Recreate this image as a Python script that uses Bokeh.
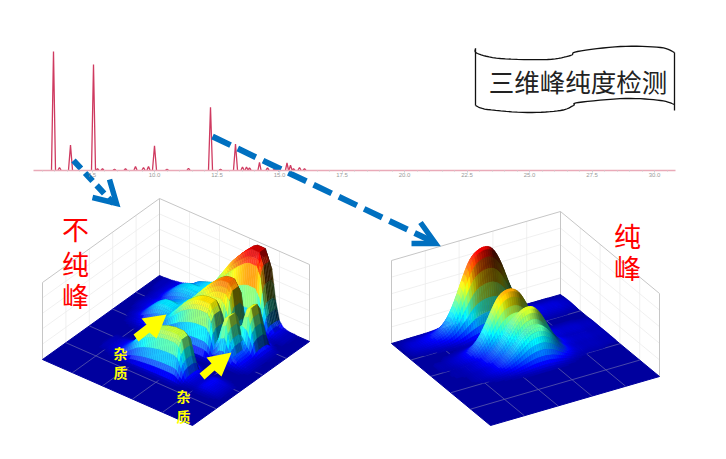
import numpy as np
from bokeh.plotting import figure
from bokeh.models import Range1d, LinearAxis, FixedTicker, NumeralTickFormatter
from bokeh.core.properties import value
from bokeh.embed import file_html
from bokeh.resources import INLINE

# ---------- chromatogram ----------
peak_times = [5.96, 6.2, 6.64, 7.56, 7.72, 7.92, 8.4, 8.84, 9.24, 9.56, 9.76, 10.0, 10.5, 11.36, 12.24, 12.64, 13.24, 13.52, 13.68, 13.8, 14.2, 14.52, 14.8, 15.3, 15.44, 15.56, 15.8, 16.0]
peak_heights = [100, 2, 21, 89, 1, 1, 0.5, 1, 3, 2, 3, 20.5, 0.5, 1.4, 53, 0.5, 22, 2.5, 2.5, 1.7, 6.5, 1.7, 0.5, 6, 4, 1, 2, 1]
tick_values = [7.5, 10.0, 12.5, 15.0, 17.5, 20.0, 22.5, 25.0, 27.5, 30.0]
time_start, time_end = 5.16, 30.84

# ---------- 3D surfaces: height (%) along the ridge, read by eye ----------
left_row_index = [35, 27, 38, 30, 25, 14]
left_rows = [
    [0,0,0,1,2,3,6,10,15,19,22,24,25,25,25,24,23,22,21,20,19,17,14,11,8,6,4,3,2,1,0,0,0,0,0,0,0,0,0,0,0],
    [0,0,0,0,1,2,4,8,13,18,22,25,26,26,25,24,24,25,26,26,25,23,19,14,10,7,4,3,2,1,0,0,0,0,0,0,0,0,0,0,0],
    [0,0,1,1,2,3,4,6,8,10,14,18,20,22,24,26,30,36,44,52,60,68,75,81,87,92,97,100,100,100,85,40,12,4,2,1,1,0,0,0,0],
    [0,0,0,1,2,3,5,7,9,11,13,16,18,20,22,26,30,36,42,48,54,60,65,70,74,77,78,78,70,30,10,30,55,58,35,8,2,1,0,0,0],
    [0,0,0,0,0,1,2,3,5,7,9,12,14,17,20,24,30,36,42,48,52,56,59,61,62,62,62,50,18,30,52,56,30,12,8,4,2,1,0,0,0],
    [0,0,0,0,0,0,0,1,1,2,3,5,8,12,17,24,31,36,40,43,46,48,50,51,52,52,52,48,24,6,3,2,2,4,5,4,3,2,1,0,0],
]
left_across = [4, 30, 85, 100, 100, 100, 85, 30, 4]

right_row_index = [4, 14, 18, 21]
right_row_heights = [100, 73, 58, 42]
right_profile_back = [0,1,2,3,3,4,5,6,8,10,14,20,30,43,58,73,86,94,98,100,100,98,92,82,68,52,38,26,17,11,7,5,4,4,3,3,3,3,2,2,1]
right_profile_mid = [0,0,0,1,1,1,2,3,4,6,9,13,20,30,44,60,76,90,97,100,100,97,90,78,62,45,30,19,12,8,5,4,3,3,3,3,3,2,2,2,1]
right_profile_near = [0,0,0,0,1,1,1,2,3,4,6,9,12,17,24,33,44,57,71,84,94,99,100,97,88,74,56,38,24,14,8,5,4,3,3,3,3,2,2,2,1]
right_across = [2, 8, 26, 60, 90, 100, 90, 60, 26, 8, 2]

# ---------- geometry of the picture (pixels) ----------
LEFT_BOX = dict(L=(42, 359), B=(192, 425), K=(159, 275), H=77)
RIGHT_BOX = dict(L=(391, 343), B=(490, 425), K=(560, 294), H=83)
N = 41
LIGHT = (-0.12, -0.75, 0.65)


def stamp(rows, idx, across, ridge_along_u):
    half = len(across) // 2
    Z = np.zeros((N, N))
    for k, row in zip(idx, rows):
        for c, a in enumerate(across):
            m = k + c - half
            if 0 <= m < N:
                line = np.array(row, dtype=float) * a / 100
                if ridge_along_u:
                    Z[:, m] = np.maximum(Z[:, m], line)
                else:
                    Z[m, :] = np.maximum(Z[m, :], line)
    return Z


def refine(Z, blur):
    """Draw the read grid on a twice finer mesh so that facets do not show."""
    F = np.zeros((2 * N - 1, 2 * N - 1))
    F[::2, ::2] = Z
    F[1::2, ::2] = (Z[:-1, :] + Z[1:, :]) / 2
    F[::2, 1::2] = (Z[:, :-1] + Z[:, 1:]) / 2
    F[1::2, 1::2] = (Z[:-1, :-1] + Z[1:, :-1] + Z[:-1, 1:] + Z[1:, 1:]) / 4
    if not blur:
        return F
    G = F.copy()
    G[1:-1, :] = (F[:-2, :] + 2 * F[1:-1, :] + F[2:, :]) / 4
    H = G.copy()
    H[:, 1:-1] = (G[:, :-2] + 2 * G[:, 1:-1] + G[:, 2:]) / 4
    return H


def jet(t):
    t = np.clip(t, 0, 1)
    return (np.clip(1.5 - abs(4 * t - 3), 0, 1),
            np.clip(1.5 - abs(4 * t - 2), 0, 1),
            np.clip(1.5 - abs(4 * t - 1), 0, 1))


def project(box, u, v, z=0.0):
    Lx, Ly = box["L"]
    Bx, By = box["B"]
    Kx, Ky = box["K"]
    return (Lx + u * (Bx - Lx) + v * (Kx - Lx),
            Ly + u * (By - Ly) + v * (Ky - Ly) - z / 100 * box["H"])


def surface_cells(box, Z, ridge_along_u):
    M = Z.shape[0]
    row_max = Z.max(axis=0) if ridge_along_u else Z.max(axis=1)
    cells = []
    for i in range(M - 1):
        for j in range(M - 1):
            q = [Z[i, j], Z[i + 1, j], Z[i + 1, j + 1], Z[i, j + 1]]
            if max(q) < 0.5:
                continue
            u0, u1, v0, v1 = i / (M - 1), (i + 1) / (M - 1), j / (M - 1), (j + 1) / (M - 1)
            pts = [project(box, u0, v0, q[0]), project(box, u1, v0, q[1]),
                   project(box, u1, v1, q[2]), project(box, u0, v1, q[3])]
            scale = 0.3 / 100 * (M - 1)
            dzu = ((q[1] - q[0]) + (q[2] - q[3])) / 2 * scale
            dzv = ((q[3] - q[0]) + (q[2] - q[1])) / 2 * scale
            ln = (dzu ** 2 + dzv ** 2 + 1) ** 0.5
            nu, nv, nz = -dzu / ln, -dzv / ln, 1 / ln
            lit = max(0.0, nu * LIGHT[0] + nv * LIGHT[1] + nz * LIGHT[2]) / LIGHT[2]
            t = (np.mean(q) / 100) ** 0.75 * 0.89 + 0.03
            r, g, b = jet(t)
            base = 0.7 - 0.5 * (row_max[j] if ridge_along_u else row_max[i]) / 100
            dim = min(1.0, base + lit)
            white = min(0.35, 0.3 * max(0.0, lit - 1.0))
            if np.mean(q) < 6:
                dim, white = 1.0, 0.0
            r, g, b = [(c * dim) * (1 - white) + white for c in (r, g, b)]
            col = "#%02x%02x%02x" % (int(r * 255), int(g * 255), int(b * 255))
            cells.append((u0 - v0, [p[0] for p in pts], [p[1] for p in pts], col))
    cells.sort(key=lambda c: c[0])
    return [c[1] for c in cells], [c[2] for c in cells], [c[3] for c in cells]


def smooth(pts, steps=8):
    P = [pts[0]] + list(pts) + [pts[-1]]
    xs, ys = [], []
    for i in range(1, len(P) - 2):
        for s in range(steps):
            t = s / steps
            for dim, out in ((0, xs), (1, ys)):
                a, b, c, d = P[i - 1][dim], P[i][dim], P[i + 1][dim], P[i + 2][dim]
                out.append(0.5 * (2 * b + (c - a) * t + (2 * a - 5 * b + 4 * c - d) * t ** 2
                                  + (3 * b - a - 3 * c + d) * t ** 3))
    xs.append(pts[-1][0])
    ys.append(pts[-1][1])
    return xs, ys


p = figure(width=710, height=443, output_backend="svg", toolbar_location=None,
           x_range=Range1d((0 - 154) / 25 + 10, (710 - 154) / 25 + 10),
           y_range=Range1d(-(443 - 169.5) / 1.185, 169.5 / 1.185),
           min_border=0, x_axis_type=None, y_axis_type=None)
p.outline_line_color = None
p.grid.visible = False
p.extra_x_ranges["px"] = Range1d(0, 710)
p.extra_y_ranges["px"] = Range1d(443, 0)
PX = dict(x_range_name="px", y_range_name="px")

axis = LinearAxis(fixed_location=0, bounds=(time_start, time_end),
                  formatter=NumeralTickFormatter(format="0.0"),
                  ticker=FixedTicker(ticks=tick_values,
                                     minor_ticks=[float(t) for t in np.arange(5.5, 30.6, 0.5)]))
axis.axis_line_color = "#e9aab8"
axis.axis_line_width = 1.4
axis.major_tick_line_color = "#cfcfcf"
axis.minor_tick_line_color = "#cfcfcf"
axis.major_tick_in = 0
axis.major_tick_out = 2
axis.minor_tick_in = 0
axis.minor_tick_out = 1
axis.major_label_standoff = 1
axis.major_label_text_font_size = "6px"
axis.major_label_text_color = "#9a9a9a"
p.add_layout(axis, "below")

for t, h in zip(peak_times, peak_heights):
    w = 0.08 if h > 15 else 0.06
    p.line([t - w, t, t + w], [0, h, 0], line_color="#cf3a60", line_width=1.3)


def draw_box(box, Z, ridge_along_u, blur):
    fine = {"xs": [], "ys": []}
    for f in (0.2, 0.4, 0.6, 0.8):
        for a, b in [((0, f, 0), (0, f, 100)), ((f, 1, 0), (f, 1, 100))]:
            q0, q1 = project(box, *a), project(box, *b)
            fine["xs"].append([q0[0], q1[0]])
            fine["ys"].append([q0[1], q1[1]])
    for zl in (20, 40, 60, 80):
        chain = [project(box, 0, 0, zl), project(box, 0, 1, zl), project(box, 1, 1, zl)]
        fine["xs"].append([c[0] for c in chain])
        fine["ys"].append([c[1] for c in chain])
    p.multi_line(fine["xs"], fine["ys"], line_color="#ececec", line_width=0.8, **PX)
    outer = [project(box, 0, 0, 0), project(box, 0, 0, 100), project(box, 0, 1, 100),
             project(box, 1, 1, 100), project(box, 1, 1, 0)]
    p.line([c[0] for c in outer], [c[1] for c in outer], line_color="#c6c6c6", line_width=1, **PX)
    back = [project(box, 0, 1, 0), project(box, 0, 1, 100)]
    p.line([c[0] for c in back], [c[1] for c in back], line_color="#c6c6c6", line_width=1, **PX)

    corners = [project(box, 0, 0), project(box, 1, 0), project(box, 1, 1), project(box, 0, 1)]
    p.patch([c[0] for c in corners], [c[1] for c in corners], fill_color="#00009e",
            line_color="#00009e", **PX)
    gx, gy = [], []
    for f in (0.2, 0.4, 0.6, 0.8):
        a0, a1 = project(box, f, 0), project(box, f, 1)
        b0, b1 = project(box, 0, f), project(box, 1, f)
        gx += [[a0[0], a1[0]], [b0[0], b1[0]]]
        gy += [[a0[1], a1[1]], [b0[1], b1[1]]]
    p.multi_line(gx, gy, line_color="#5a5aac", line_width=0.8, **PX)
    xs, ys, cols = surface_cells(box, refine(Z, blur), ridge_along_u)
    p.patches(xs, ys, fill_color=cols, line_color=cols, line_width=0.4, **PX)


left_Z = stamp(left_rows, left_row_index, left_across, True)
right_profiles = [right_profile_back, right_profile_mid, right_profile_near, right_profile_near]
right_rows = [[v * h / 100 for v in prof] for prof, h in zip(right_profiles, right_row_heights)]
right_Z = stamp(right_rows, right_row_index, right_across, False)
draw_box(LEFT_BOX, left_Z, True, False)
draw_box(RIGHT_BOX, right_Z, False, True)

# ---------- blue dashed arrows ----------
BLUE = "#0070c0"
p.line([73, 113], [160, 203], line_color=BLUE, line_width=6, line_dash="11 6", **PX)
p.line([109, 116, 92], [179, 203, 197], line_color=BLUE, line_width=5.5, line_join="miter", **PX)
p.line([212, 432], [136, 241], line_color=BLUE, line_width=6, line_dash="20 8", **PX)
p.line([420, 435, 411], [222, 243, 243], line_color=BLUE, line_width=5.5, line_join="miter", **PX)

# ---------- yellow block arrows ----------
p.patch([133, 138, 149, 156, 166, 141, 146], [334, 341, 332, 338, 314, 318, 324],
        fill_color="#ffff00", line_color=None, **PX)
p.patch([199, 204, 214, 221, 231, 206, 211], [373, 379, 370, 376, 352, 357, 363],
        fill_color="#ffff00", line_color=None, **PX)

# ---------- banner ----------
top_edge = [(475, 48), (477, 53), (500, 58), (547, 59), (570, 55), (577, 51), (620, 46), (660, 47), (674, 52)]
bottom_edge = [(475, 105), (487, 109), (527, 112), (560, 110), (573, 105), (578, 102), (625, 98), (660, 100), (674, 104)]
for edge in (top_edge, bottom_edge):
    ex, ey = smooth(edge)
    p.line(ex, ey, line_color="#111111", line_width=1.3, **PX)
p.multi_line([[475, 475], [674, 674]], [[48, 105], [52, 110]], line_color="#111111", line_width=1.3, **PX)

CJK = value("Noto Sans CJK SC")
p.text([577.5], [80], text=["三维峰纯度检测"], text_font=CJK, text_font_size="25.5px", text_color="#222222",
       text_align="center", text_baseline="middle", **PX)
p.text([75, 75, 75, 627, 627], [228, 263, 295, 235, 267], text=["不", "纯", "峰", "纯", "峰"],
       text_font=CJK, text_font_size="27px", text_color="#ff0000", text_align="center",
       text_baseline="middle", **PX)
p.text([120, 120, 183, 183], [352, 371, 395, 415], text=["杂", "质", "杂", "质"], text_font=CJK,
       text_font_size="14px", text_font_style="bold", text_color="#ffff00", text_align="center",
       text_baseline="middle", **PX)

open("out.html", "w").write(file_html(p, INLINE))
